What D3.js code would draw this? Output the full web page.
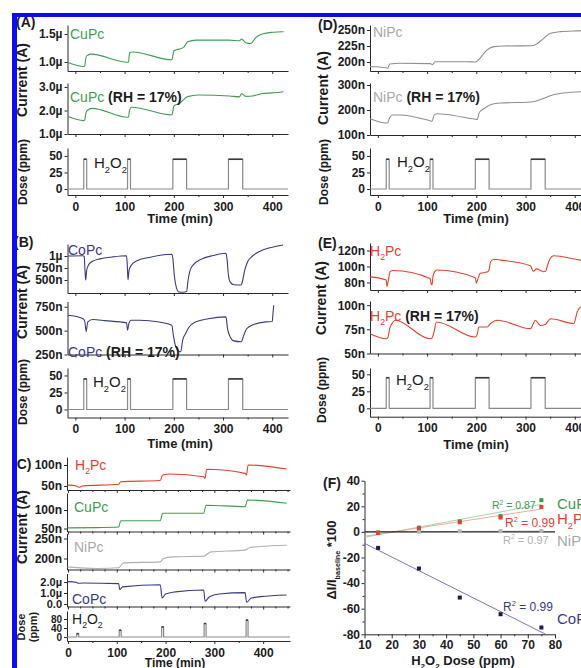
<!DOCTYPE html>
<html><head><meta charset="utf-8">
<script src="https://cdn.jsdelivr.net/npm/d3@7"></script>
<style>html,body{margin:0;padding:0;background:#fff;} svg{display:block;} text{white-space:pre;}</style>
</head><body><div id="chart"></div>
<script>
// ---------------- DATA ----------------
// Dose program shared by panels A, B, D, E (time in min, dose in ppm)
const doseT = [-16, 17, 17, 23, 23, 106, 106, 112, 112, 198, 198, 226, 226, 311, 311, 340, 340, 432];
const doseV = [0, 0, 45, 45, 0, 0, 45, 45, 0, 0, 45, 45, 0, 0, 45, 45, 0, 0];
// Panel C dose program
const cDoseT = [-2, 18, 18, 22, 22, 105, 105, 109, 109, 192, 192, 196, 196, 279, 279, 283, 283, 365, 365, 369, 369, 455];
const cDoseV = [0, 0, 15, 15, 0, 0, 30, 30, 0, 0, 45, 45, 0, 0, 60, 60, 0, 0, 75, 75, 0, 0];

// (A) CuPc, current in µA
const tA1 = [-15, 17, 19, 21, 23, 32, 106, 108, 110, 116, 196, 198, 200, 211, 221, 228, 245, 313, 333, 338, 346, 356, 367, 380, 400, 423];
const vA1 = [0.99, 0.92, 0.93, 1.05, 1.11, 1.14, 0.995, 1.0, 1.16, 1.18, 1.04, 1.1, 1.2, 1.23, 1.27, 1.36, 1.39, 1.39, 1.38, 1.41, 1.345, 1.33, 1.44, 1.5, 1.53, 1.54];
const tA2 = [-15, 17, 19, 21, 24, 34, 106, 108, 110, 114, 196, 198, 200, 212, 228, 250, 313, 333, 338, 346, 360, 380, 400, 423];
const vA2 = [1.74, 1.57, 1.6, 1.85, 2.0, 2.09, 1.71, 1.73, 2.0, 2.14, 1.81, 1.95, 2.19, 2.31, 2.59, 2.66, 2.62, 2.58, 2.72, 2.6, 2.62, 2.72, 2.75, 2.8];

// (B) CoPc, current in nA
const tB1 = [-15, 15, 18, 19.5, 21, 23, 27, 35, 50, 75, 104, 105.5, 107, 109, 113, 125, 150, 196, 198, 201, 205, 210, 220, 226, 229, 233, 240, 255, 280, 306, 308, 311, 315, 322, 337, 340, 344, 350, 360, 375, 395, 422];
const vB1 = [1000, 1005, 990, 700, 500, 700, 820, 890, 940, 980, 1005, 800, 500, 700, 800, 900, 970, 1035, 950, 600, 350, 250, 245, 260, 500, 700, 820, 930, 1010, 1056, 950, 600, 450, 400, 395, 500, 700, 880, 1000, 1100, 1170, 1229];
const tB2 = [-15, 15, 19, 22, 25, 35, 60, 104, 106, 109, 113, 130, 170, 196, 199, 204, 210, 214, 218, 224, 230, 245, 270, 306, 309, 315, 320, 337, 342, 348, 360, 387, 400, 401.5, 403];
const vB2 = [661, 627, 600, 490, 590, 616, 605, 581, 505, 580, 609, 609, 590, 557, 453, 330, 285, 279, 401, 470, 530, 592, 625, 644, 523, 430, 395, 383, 450, 520, 560, 592, 595, 680, 766];

// (D) NiPc, current in nA
const tD1 = [-16, 17, 20, 24, 45, 106, 111, 116, 181, 198, 205, 222, 236, 256, 310, 320, 337, 351, 371, 412, 432];
const vD1 = [193, 191, 190, 197, 198, 197.5, 196, 200.5, 200.5, 200, 204, 219, 224, 225, 225.5, 227, 237, 245, 247.5, 249, 250];
const tD2 = [-16, 17, 20, 24, 30, 45, 106, 110, 114, 120, 140, 198, 202, 206, 215, 230, 250, 310, 320, 335, 350, 370, 412, 432];
const vD2 = [165, 148, 148, 170, 180, 180, 157, 155, 178, 185, 182, 163, 162, 190, 205, 222, 228, 232, 235, 245, 257, 266, 273, 275];

// (E) H2Pc, current in nA
const tE1 = [-16, 17, 18.5, 21, 25, 31, 106, 108, 110, 112, 116, 120, 198, 200, 203, 208, 222, 226, 229, 236, 250, 310, 313, 316, 322, 337, 341, 344, 350, 357, 412, 432];
const vE1 = [87, 83, 75, 82, 93.5, 95, 85, 79, 77, 88, 94, 95.6, 86, 79, 84, 91.5, 93, 96, 106, 109, 108, 101, 97, 94, 97, 93.5, 94, 100, 110, 113.5, 108, 107];
const tE2 = [-16, 17, 20, 24, 30, 35, 106, 110, 113, 119, 198, 202, 205, 222, 229, 243, 310, 315, 320, 330, 340, 351, 398, 405, 412, 432];
const vE2 = [70.5, 65.3, 66, 75.7, 82, 84.4, 65.3, 66, 70, 82.6, 67, 70, 77.4, 77.4, 81, 84.4, 75.7, 80, 84.4, 79, 80, 86, 81, 93, 98, 100];

// (C) dry-air series
const tC1 = [-1, 18, 22, 30, 104, 108, 189, 194, 210, 278, 281, 284, 363, 366, 369, 448];
const vC1 = [52, 50, 47, 50, 54, 60, 63, 76, 78.6, 72, 68, 90, 80, 76, 100, 90.5];           // H2Pc nA
const tC2 = [-1, 60, 104, 108, 189, 194, 278, 283, 363, 368, 448];
const vC2 = [51.6, 52.5, 54, 70.8, 71, 91, 91, 113, 109, 127, 118];                          // CuPc nA
const tC3 = [-1, 60, 104, 114, 189, 196, 215, 278, 293, 363, 373, 448];
const vC3 = [179, 175, 177, 189, 191.5, 200, 204, 206, 216.5, 221, 227.5, 233];              // NiPc nA
const tC4 = [-1, 18, 22, 30, 104, 106, 112, 189, 193, 200, 220, 278, 281, 290, 310, 363, 366, 375, 395, 448];
const vC4 = [2.03, 1.95, 1.88, 1.9, 1.85, 1.3, 1.55, 1.75, 0.55, 0.9, 1.1, 1.27, 0.25, 0.65, 0.9, 1.03, 0.15, 0.52, 0.67, 0.82]; // CoPc µA

// (F) response vs dose
const fDose = [15, 30, 45, 60, 75];
const fCuPc = [-0.5, 3.4, 8.3, 12.3, 24.8];
const fH2Pc = [-0.8, 2.8, 7.5, 11.2, 19.5];
const fNiPc = [-0.3, 0.2, 0.5, 0.6, 0.8];
const fCoPc = [-12.5, -28.6, -51.3, -64.3, -74.7];
const fR2 = ['0.87', '0.99', '0.97', '0.99'];

// Tick values and labels
const timeTicks = [0, 100, 200, 300, 400];
const timeMinor = [50, 150, 250, 350];
const tickA1 = [1.0, 1.5], lblA1 = ['1.0µ', '1.5µ'];
const tickA2 = [1.0, 2.0, 3.0], lblA2 = ['1.0µ', '2.0µ', '3.0µ'];
const tickDose = [0, 25, 50], lblDose = ['0', '25', '50'];
const tickB1 = [500, 750, 1000], lblB1 = ['500n', '750n', '1µ'];
const tickB2 = [250, 500, 750], lblB2 = ['250n', '500n', '750n'];
const tickD1 = [200, 225, 250], lblD1 = ['200n', '225n', '250n'];
const tickD2 = [100, 200, 300], lblD2 = ['100n', '200n', '300n'];
const tickE1 = [80, 100, 120], lblE1 = ['80n', '100n', '120n'];
const tickE2 = [50, 75, 100], lblE2 = ['50n', '75n', '100n'];
const tickC1 = [50, 100], lblC1 = ['50n', '100n'];
const tickC2 = [50, 100], lblC2 = ['50n', '100n'];
const tickC3 = [200, 250], lblC3 = ['200n', '250n'];
const tickC4 = [0, 1, 2], lblC4 = ['0.0', '1.0µ', '2.0µ'];
const tickC5 = [0, 40, 80], lblC5 = ['0', '40', '80'];
const tickFY = [-80, -60, -40, -20, 0, 20, 40], lblFY = ['-80', '-60', '-40', '-20', '0', '20', '40'];
const tickFX = [10, 20, 30, 40, 50, 60, 70, 80];

// ---------------- STYLE ----------------
const FONT = "'Liberation Sans', Arial, Helvetica, sans-serif";
const AXIS = '#2b2b2b';
const GREEN = '#3f9f52', RED = '#e5412d', NAVY = '#3a3a86', NITEXT = '#a9a9a9', DOSE = '#8a8a8a';

const svg = d3.select('#chart').append('svg').attr('width', 581).attr('height', 668);
svg.append('rect').attr('width', 581).attr('height', 668).attr('fill', '#fff');

function zip(a, b) { return a.map((d, i) => [d, b[i]]); }

function styleAxis(g, size, weight) {
  g.attr('font-family', FONT).attr('font-size', size).attr('font-weight', weight || 'bold').attr('color', AXIS);
  g.selectAll('text').attr('fill', '#1c1c1c');
  g.selectAll('path.domain').attr('stroke-width', 1);
}

function rich(parent, x, y, parts, o) {
  const size = o.size;
  const t = parent.append('text').attr('x', x).attr('y', y)
    .attr('font-family', FONT).attr('font-size', size)
    .attr('font-weight', o.weight || 'normal').attr('fill', o.fill || '#1c1c1c')
    .attr('text-anchor', o.anchor || 'start');
  let shift = 0;
  parts.forEach(p => {
    const target = p.sub ? size * 0.32 : (p.sup ? -size * 0.42 : 0);
    const ts = t.append('tspan').text(p.t).attr('dy', target - shift);
    if (p.sub || p.sup) ts.attr('font-size', size * (p.small || 0.62));
    if (p.fill) ts.attr('fill', p.fill);
    if (p.weight) ts.attr('font-weight', p.weight);
    shift = target;
  });
  return t;
}
function vtext(x, y, parts, o) {
  const g = svg.append('g').attr('transform', `translate(${x},${y}) rotate(-90)`);
  rich(g, 0, 0, parts, Object.assign({ anchor: 'middle' }, o));
}

function sub(o) {
  const g = svg.append('g');
  const x0 = o.x.range()[0], yb = o.y.range()[0];
  const la = g.append('g').attr('transform', `translate(${x0},0)`)
    .call(d3.axisLeft(o.y).tickValues(o.yTicks).tickFormat((d, i) => o.yLabels[i])
      .tickSizeInner(3).tickSizeOuter(0).tickPadding(2));
  styleAxis(la, o.yFont || 12);
  const ba = g.append('g').attr('transform', `translate(0,${yb})`)
    .call(d3.axisBottom(o.x).tickValues(o.xTicks).tickFormat(o.xLabels ? (d => d) : (() => ''))
      .tickSizeInner(3).tickSizeOuter(0).tickPadding(4));
  styleAxis(ba, o.xFont || 12);
  if (o.xMinor) {
    const m = g.append('g').attr('transform', `translate(0,${yb})`)
      .call(d3.axisBottom(o.x).tickValues(o.xMinor).tickFormat(() => '').tickSizeInner(2).tickSizeOuter(0));
    m.select('.domain').remove(); styleAxis(m, 10);
  }
  (o.series || []).forEach(s => {
    const line = d3.line().x(d => o.x(d[0])).y(d => o.y(d[1])).curve(s.curve || d3.curveMonotoneX);
    g.append('path').datum(zip(s.t, s.v)).attr('d', line)
      .attr('fill', 'none').attr('stroke', s.color).attr('stroke-width', s.w || 1.1)
      .attr('stroke-linejoin', 'round');
  });
  return g;
}

function dosePanel(x, y, t, v, ticks, labels, font) {
  const g = sub({ x, y, yTicks: ticks, yLabels: labels, yFont: font, xTicks: timeTicks, xMinor: timeMinor, xLabels: true,
    series: [{ t, v, color: DOSE, curve: d3.curveLinear, w: 1.2 }] });
  const seg = [];
  for (let i = 0; i < t.length - 1; i++) if (v[i] > 0 && v[i + 1] > 0) seg.push([[t[i], v[i]], [t[i + 1], v[i + 1]]]);
  seg.forEach(s => g.append('path').attr('d', d3.line().x(d => x(d[0])).y(d => y(d[1]))(s))
    .attr('stroke', '#3a3a3a').attr('stroke-width', 1.6).attr('fill', 'none'));
  return g;
}

const H2O2 = [{ t: 'H' }, { t: '2', sub: true }, { t: 'O' }, { t: '2', sub: true }];
const timeTitle = [{ t: 'Time (min)' }];

// ---------------- PANEL A ----------------
const xA = d3.scaleLinear().domain([-16, 432]).range([67.5, 288]);
const yA1 = d3.scaleLinear().domain([0.84, 1.66]).range([71, 25]);
const yA2 = d3.scaleLinear().domain([1.0, 3.17]).range([134, 83]);
const yA3 = d3.scaleLinear().domain([-9.1, 62]).range([195, 148]);
sub({ x: xA, y: yA1, yTicks: tickA1, yLabels: lblA1, xTicks: timeTicks, xMinor: timeMinor, series: [{ t: tA1, v: vA1, color: GREEN }] });
sub({ x: xA, y: yA2, yTicks: tickA2, yLabels: lblA2, xTicks: timeTicks, xMinor: timeMinor, series: [{ t: tA2, v: vA2, color: GREEN }] });
dosePanel(xA, yA3, doseT, doseV, tickDose, lblDose, 12);
rich(svg, 70, 39, [{ t: 'CuPc' }], { size: 14, fill: GREEN });
rich(svg, 70, 102, [{ t: 'CuPc', fill: GREEN }, { t: ' (RH = 17%)', weight: 'bold' }], { size: 14 });
rich(svg, 94, 168, H2O2, { size: 15 });
vtext(27, 80, [{ t: 'Current (A)' }], { size: 14, weight: 'bold' });
vtext(27, 172, [{ t: 'Dose (ppm)' }], { size: 12, weight: 'bold' });
rich(svg, 180, 223, timeTitle, { size: 13, weight: 'bold', anchor: 'middle' });
rich(svg, 16, 27, [{ t: '(A)' }], { size: 14, weight: 'bold' });

// ---------------- PANEL B ----------------
const yB1 = d3.scaleLinear().domain([229, 1250]).range([293, 244]);
const yB2 = d3.scaleLinear().domain([250, 805]).range([354.5, 301.5]);
const yB3 = d3.scaleLinear().domain([-11.8, 61]).range([417.5, 368]);
sub({ x: xA, y: yB1, yTicks: tickB1, yLabels: lblB1, xTicks: timeTicks, xMinor: timeMinor, series: [{ t: tB1, v: vB1, color: NAVY }] });
sub({ x: xA, y: yB2, yTicks: tickB2, yLabels: lblB2, xTicks: timeTicks, xMinor: timeMinor, series: [{ t: tB2, v: vB2, color: NAVY }] });
dosePanel(xA, yB3, doseT, doseV, tickDose, lblDose, 12);
rich(svg, 68, 255, [{ t: 'CoPc' }], { size: 14, fill: NAVY });
rich(svg, 68, 357, [{ t: 'CoPc', fill: NAVY }, { t: ' (RH = 17%)', weight: 'bold' }], { size: 14 });
rich(svg, 93, 387, H2O2, { size: 15 });
vtext(27, 302, [{ t: 'Current (A)' }], { size: 14, weight: 'bold' });
vtext(27, 392, [{ t: 'Dose (ppm)' }], { size: 12, weight: 'bold' });
rich(svg, 180, 448, timeTitle, { size: 13, weight: 'bold', anchor: 'middle' });
rich(svg, 14, 247, [{ t: '(B)' }], { size: 14, weight: 'bold' });

// ---------------- PANEL C ----------------
const xC = d3.scaleLinear().domain([-2, 455]).range([67, 290]);
const yC1 = d3.scaleLinear().domain([40.5, 119]).range([490, 457]);
const yC2 = d3.scaleLinear().domain([41.9, 145.9]).range([531.5, 493]);
const yC3 = d3.scaleLinear().domain([172.5, 262.5]).range([569.5, 533.5]);
const yC4 = d3.scaleLinear().domain([-0.23, 2.77]).range([606.5, 573.5]);
const yC5 = d3.scaleLinear().domain([-17.8, 115.6]).range([641, 611]);
const cMinor = [25, 50, 75, 125, 150, 175, 225, 250, 275, 325, 350, 375, 425, 450];
sub({ x: xC, y: yC1, yTicks: tickC1, yLabels: lblC1, xTicks: timeTicks, xMinor: cMinor, series: [{ t: tC1, v: vC1, color: RED }] });
sub({ x: xC, y: yC2, yTicks: tickC2, yLabels: lblC2, xTicks: timeTicks, xMinor: cMinor, series: [{ t: tC2, v: vC2, color: GREEN }] });
sub({ x: xC, y: yC3, yTicks: tickC3, yLabels: lblC3, xTicks: timeTicks, xMinor: cMinor, series: [{ t: tC3, v: vC3, color: '#b0b0b0' }] });
sub({ x: xC, y: yC4, yTicks: tickC4, yLabels: lblC4, yFont: 11, xTicks: timeTicks, xMinor: cMinor, series: [{ t: tC4, v: vC4, color: NAVY }] });
dosePanel(xC, yC5, cDoseT, cDoseV, tickC5, lblC5, 10);
rich(svg, 75, 470, [{ t: 'H' }, { t: '2', sub: true }, { t: 'Pc' }], { size: 14, fill: RED });
rich(svg, 74, 512, [{ t: 'CuPc' }], { size: 14, fill: GREEN });
rich(svg, 74, 552, [{ t: 'NiPc' }], { size: 14, fill: NITEXT });
rich(svg, 72, 604, [{ t: 'CoPc' }], { size: 14, fill: NAVY });
rich(svg, 72, 624, H2O2, { size: 14 });
vtext(27, 527, [{ t: 'Current (A)' }], { size: 14, weight: 'bold' });
vtext(25, 627, [{ t: 'Dose' }], { size: 11, weight: 'bold' });
vtext(37, 627, [{ t: '(ppm)' }], { size: 11, weight: 'bold' });
rich(svg, 175, 667, timeTitle, { size: 12, weight: 'bold', anchor: 'middle' });
rich(svg, 12, 469, [{ t: '(C)' }], { size: 14, weight: 'bold' });

// ---------------- PANEL D ----------------
const xD = d3.scaleLinear().domain([-16, 432]).range([370, 590.5]);
const yD1 = d3.scaleLinear().domain([186, 257.8]).range([71, 25]);
const yD2 = d3.scaleLinear().domain([100, 308]).range([135, 83]);
sub({ x: xD, y: yD1, yTicks: tickD1, yLabels: lblD1, xTicks: timeTicks, xMinor: timeMinor, series: [{ t: tD1, v: vD1, color: '#8f8f8f' }] });
sub({ x: xD, y: yD2, yTicks: tickD2, yLabels: lblD2, xTicks: timeTicks, xMinor: timeMinor, series: [{ t: tD2, v: vD2, color: '#8f8f8f' }] });
dosePanel(xD, yA3, doseT, doseV, tickDose, lblDose, 12);
rich(svg, 373, 37, [{ t: 'NiPc' }], { size: 14, fill: NITEXT });
rich(svg, 373, 102, [{ t: 'NiPc', fill: NITEXT }, { t: ' (RH = 17%)', weight: 'bold' }], { size: 14 });
rich(svg, 397, 167, H2O2, { size: 15 });
vtext(328, 88, [{ t: 'Current (A)' }], { size: 14, weight: 'bold' });
vtext(328, 172, [{ t: 'Dose (ppm)' }], { size: 12, weight: 'bold' });
rich(svg, 476, 223, timeTitle, { size: 13, weight: 'bold', anchor: 'middle' });
rich(svg, 318, 30, [{ t: '(D)' }], { size: 14, weight: 'bold' });

// ---------------- PANEL E ----------------
const yE1 = d3.scaleLinear().domain([70.6, 129.4]).range([290, 243]);
const yE2 = d3.scaleLinear().domain([50, 104.3]).range([353.5, 301]);
const yE3 = d3.scaleLinear().domain([-12.35, 59.3]).range([416.7, 368]);
sub({ x: xD, y: yE1, yTicks: tickE1, yLabels: lblE1, xTicks: timeTicks, xMinor: timeMinor, series: [{ t: tE1, v: vE1, color: RED }] });
sub({ x: xD, y: yE2, yTicks: tickE2, yLabels: lblE2, xTicks: timeTicks, xMinor: timeMinor, series: [{ t: tE2, v: vE2, color: RED }] });
dosePanel(xD, yE3, doseT, doseV, tickDose, lblDose, 12);
rich(svg, 370, 256, [{ t: 'H' }, { t: '2', sub: true }, { t: 'Pc' }], { size: 14, fill: RED });
rich(svg, 370, 321, [{ t: 'H', fill: RED }, { t: '2', sub: true, fill: RED }, { t: 'Pc', fill: RED }, { t: ' (RH = 17%)', weight: 'bold' }], { size: 14 });
rich(svg, 396, 385, H2O2, { size: 15 });
vtext(326, 298, [{ t: 'Current (A)' }], { size: 14, weight: 'bold' });
vtext(326, 390, [{ t: 'Dose (ppm)' }], { size: 12, weight: 'bold' });
rich(svg, 476, 449, timeTitle, { size: 13, weight: 'bold', anchor: 'middle' });
rich(svg, 318, 248, [{ t: '(E)' }], { size: 14, weight: 'bold' });

// ---------------- PANEL F ----------------
const xF = d3.scaleLinear().domain([10, 80]).range([364.5, 555]);
const yF = d3.scaleLinear().domain([-80, 40]).range([634.3, 480.7]);
const fG = svg.append('g');
const fl = fG.append('g').attr('transform', `translate(${xF.range()[0]},0)`)
  .call(d3.axisLeft(yF).tickValues(tickFY).tickFormat((d, i) => lblFY[i]).tickSizeInner(3).tickSizeOuter(0).tickPadding(1.5));
styleAxis(fl, 12);
const flm = fG.append('g').attr('transform', `translate(${xF.range()[0]},0)`)
  .call(d3.axisLeft(yF).tickValues([-70, -50, -30, -10, 10, 30]).tickFormat(() => '').tickSizeInner(2).tickSizeOuter(0));
flm.select('.domain').remove(); styleAxis(flm, 10);
const fb = fG.append('g').attr('transform', `translate(0,${yF.range()[0]})`)
  .call(d3.axisBottom(xF).tickValues(tickFX).tickSizeInner(4).tickSizeOuter(0).tickPadding(2));
styleAxis(fb, 12);
const fbm = fG.append('g').attr('transform', `translate(0,${yF.range()[0]})`)
  .call(d3.axisBottom(xF).tickValues([15, 25, 35, 45, 55, 65, 75]).tickFormat(() => '').tickSizeInner(2).tickSizeOuter(0));
fbm.select('.domain').remove(); styleAxis(fbm, 10);

svg.append('clipPath').attr('id', 'fclip').append('rect')
  .attr('x', xF(10)).attr('y', yF(40)).attr('width', xF(80) - xF(10)).attr('height', yF(-80) - yF(40));
function lsq(xs, ys) {
  const mx = d3.mean(xs), my = d3.mean(ys);
  const b = d3.sum(xs.map((x, i) => (x - mx) * (ys[i] - my))) / d3.sum(xs.map(x => (x - mx) * (x - mx)));
  return x => my + b * (x - mx);
}
const fSeries = [
  { v: fNiPc, c: '#b5b5b5', lc: '#cfcfcf', end: 75 },
  { v: fCuPc, c: '#3d9a4c', lc: '#9ccf9f', end: 75 },
  { v: fH2Pc, c: RED, lc: '#f0a090', end: 75 },
  { v: fCoPc, c: '#1b1b4d', lc: '#6a6aa8', end: 80 }
];
const fLine = d3.line().x(d => xF(d[0])).y(d => yF(d[1]));
fSeries.forEach(s => {
  const f = lsq(fDose, s.v);
  fG.append('path').attr('clip-path', 'url(#fclip)').attr('d', fLine([[10, f(10)], [s.end, f(s.end)]]))
    .attr('stroke', s.lc).attr('stroke-width', 0.9).attr('fill', 'none');
});
fG.append('path').attr('d', fLine([[10, 0], [80, 0]])).attr('stroke', '#222').attr('stroke-width', 1.2);
fSeries.forEach(s => {
  fG.selectAll(null).data(zip(fDose, s.v)).enter().append('rect')
    .attr('x', d => xF(d[0]) - 2).attr('y', d => yF(d[1]) - 2).attr('width', 4).attr('height', 4).attr('fill', s.c);
});
rich(svg, 492, 509, [{ t: 'R' }, { t: '2', sup: true }, { t: ' = ' + fR2[0] }], { size: 10.5, fill: '#3d9a4c' });
rich(svg, 505, 527, [{ t: 'R' }, { t: '2', sup: true }, { t: ' = ' + fR2[1] }], { size: 12, fill: RED });
rich(svg, 503, 544, [{ t: 'R' }, { t: '2', sup: true }, { t: ' = ' + fR2[2] }], { size: 11, fill: '#b0b0b0' });
rich(svg, 503, 611, [{ t: 'R' }, { t: '2', sup: true }, { t: ' = ' + fR2[3] }], { size: 12, fill: NAVY });
rich(svg, 557, 509, [{ t: 'CuPc' }], { size: 15, fill: '#3d9a4c' });
rich(svg, 557, 524, [{ t: 'H' }, { t: '2', sub: true }, { t: 'Pc' }], { size: 15, fill: RED });
rich(svg, 557, 546, [{ t: 'NiPc' }], { size: 15, fill: NITEXT });
rich(svg, 557, 624, [{ t: 'CoPc' }], { size: 15, fill: NAVY });
vtext(336, 560, [{ t: 'ΔI/I' }, { t: 'baseline', sub: true, small: 0.55 }, { t: ' *100' }], { size: 13, weight: 'bold' });
rich(svg, 463, 665, [{ t: 'H' }, { t: '2', sub: true }, { t: 'O' }, { t: '2', sub: true }, { t: ' Dose (ppm)' }], { size: 13, weight: 'bold', anchor: 'middle' });
rich(svg, 323, 488, [{ t: '(F)' }], { size: 14, weight: 'bold' });

// ---------------- FRAME ----------------
svg.append('rect').attr('x', 0).attr('y', 0).attr('width', 581).attr('height', 13).attr('fill', '#fff');
svg.append('rect').attr('x', 0).attr('y', 0).attr('width', 12).attr('height', 668).attr('fill', '#fff');
svg.append('rect').attr('x', 12).attr('y', 13).attr('width', 569).attr('height', 4).attr('fill', '#0c0cf0');
svg.append('rect').attr('x', 12).attr('y', 13).attr('width', 5).attr('height', 655).attr('fill', '#0c0cf0');
</script></body></html>
